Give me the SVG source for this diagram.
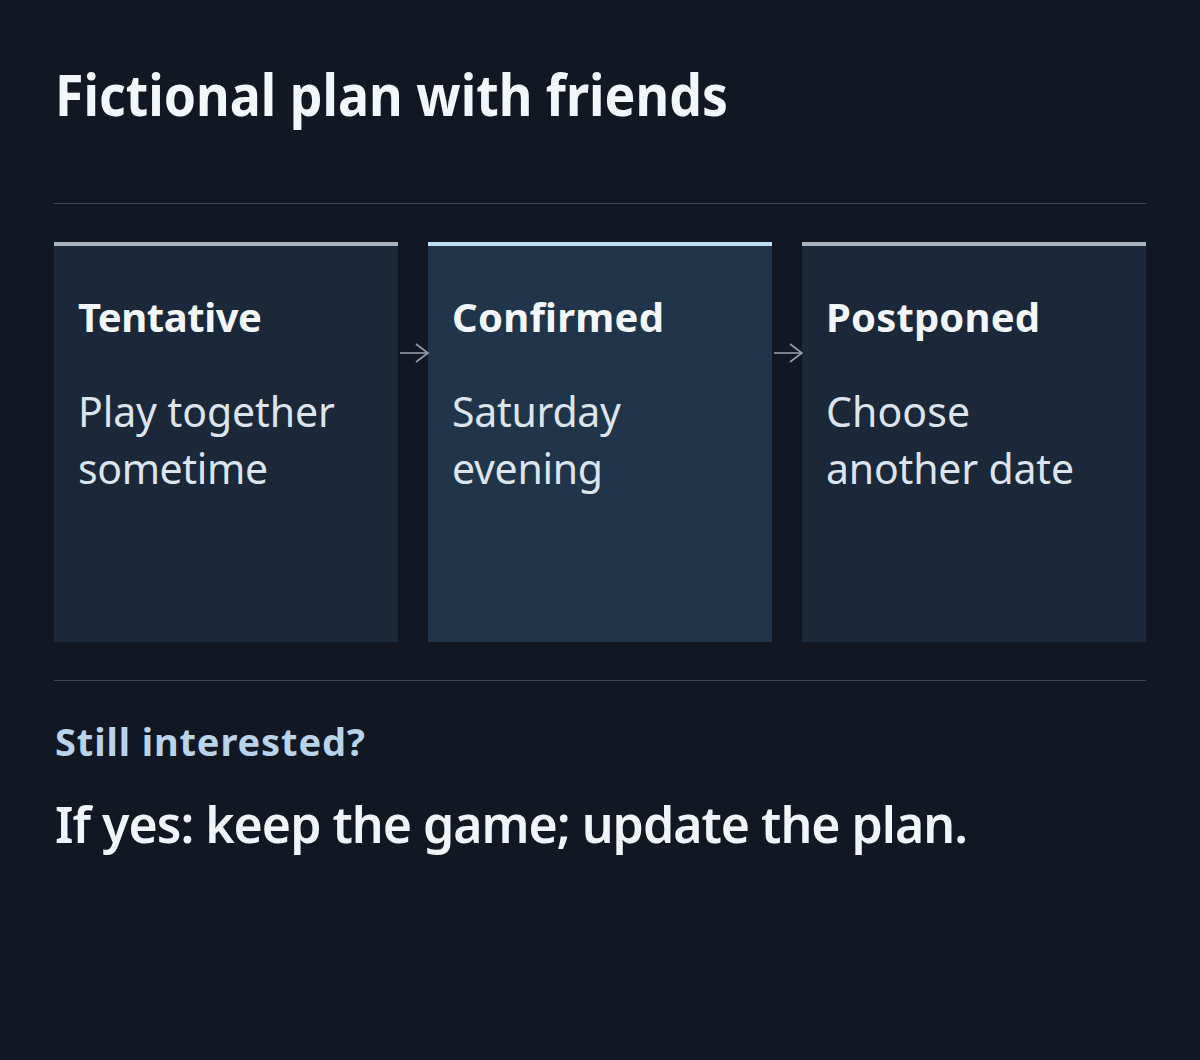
<svg xmlns="http://www.w3.org/2000/svg" width="1200" height="1060" viewBox="0 0 1200 1060">
<defs>
<style>
.bg{fill:#111823}
.rule{stroke:#3a4757;stroke-width:1}
.card{fill:#1b2839}
.card.active{fill:#203549}
.bar{fill:#a9b3bf}
.bar.active{fill:#bde0f5}
.t{font-family:"Noto Sans","Open Sans","Liberation Sans",sans-serif;fill:#f3f6fa}
.title{font-size:57px;font-weight:700}
.h{font-size:40px;font-weight:700}
.b{font-size:41px;font-weight:400;fill:#dce4ed}
.q{font-size:38px;font-weight:700;fill:#b8d3ea}
.a{font-size:50px;font-weight:600;fill:#f1f4f8}
.conn{stroke:#939eab;stroke-width:1.6;fill:none}
</style>
<marker id="arr" viewBox="0 0 14 20" refX="13" refY="10" markerWidth="14" markerHeight="20" markerUnits="userSpaceOnUse" orient="auto">
<path d="M1,1 L13,10 L1,19" fill="none" stroke="#939eab" stroke-width="1.6"/>
</marker>
</defs>
<rect class="bg" x="0" y="0" width="1200" height="1060"/>
<g id="header">
<text class="t title" x="55" y="116" textLength="673" lengthAdjust="spacingAndGlyphs">Fictional plan with friends</text>
<line class="rule" x1="54" y1="203.5" x2="1146" y2="203.5"/>
</g>
<g id="node-tentative">
<rect class="card" x="54" y="242" width="344" height="400"/>
<rect class="bar" x="54" y="242" width="344" height="4"/>
<text class="t h" x="78" y="332" textLength="184">Tentative</text>
<text class="t b" x="78" y="427" textLength="257">Play together</text>
<text class="t b" x="78" y="484" textLength="190">sometime</text>
</g>
<g id="node-confirmed">
<rect class="card active" x="428" y="242" width="344" height="400"/>
<rect class="bar active" x="428" y="242" width="344" height="4"/>
<text class="t h" x="452" y="332" textLength="212">Confirmed</text>
<text class="t b" x="452" y="427" textLength="169">Saturday</text>
<text class="t b" x="452" y="484" textLength="151">evening</text>
</g>
<g id="node-postponed">
<rect class="card" x="802" y="242" width="344" height="400"/>
<rect class="bar" x="802" y="242" width="344" height="4"/>
<text class="t h" x="826" y="332" textLength="214">Postponed</text>
<text class="t b" x="826" y="427" textLength="144">Choose</text>
<text class="t b" x="826" y="484" textLength="248">another date</text>
</g>
<g id="connectors">
<line class="conn" x1="400" y1="353" x2="428" y2="353" marker-end="url(#arr)"/>
<line class="conn" x1="774" y1="353" x2="802" y2="353" marker-end="url(#arr)"/>
</g>
<g id="footer">
<line class="rule" x1="54" y1="680.5" x2="1146" y2="680.5"/>
<text class="t q" x="55" y="756" textLength="310">Still interested?</text>
<text class="t a" x="55" y="843" textLength="913">If yes: keep the game; update the plan.</text>
</g>
</svg>
